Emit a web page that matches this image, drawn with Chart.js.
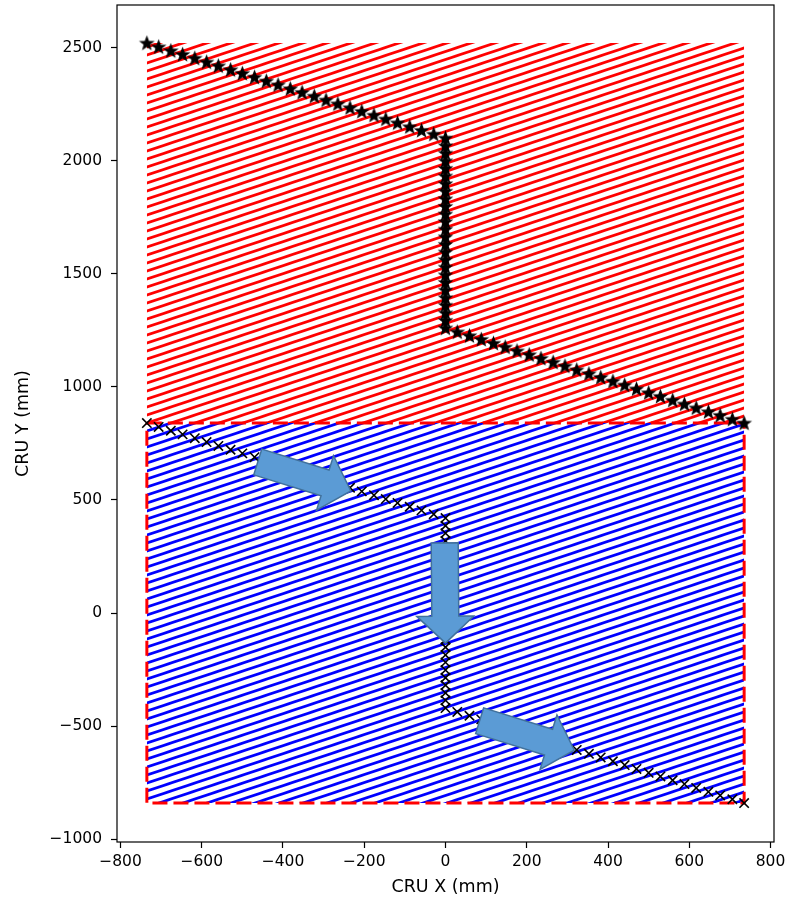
<!DOCTYPE html>
<html>
<head>
<meta charset="utf-8">
<script src="https://cdn.jsdelivr.net/npm/chart.js@4.4.1/dist/chart.umd.min.js"></script>
<style>
  html, body { margin: 0; padding: 0; background: #fff; }
  canvas { display: block; }
</style>
</head>
<body>
<canvas id="cruChart" width="800" height="899"></canvas>
<script>
// path positions shared by both scans (mm)
const pathX = [
  -735, -706, -676, -647, -617, -588, -559, -529, -500, -470, -441, -412, -382,
  -353, -323, -294, -265, -235, -206, -176, -147, -118, -88, -59, -29, 0,
  0, 0, 0, 0, 0, 0, 0, 0, 0, 0, 0, 0, 0, 0, 0, 0, 0, 0, 0, 0, 0, 0, 0, 0, 0,
  29, 59, 88, 118, 147, 176, 206, 235, 265, 294, 323, 353, 382, 412, 441, 470,
  500, 529, 559, 588, 617, 647, 676, 706, 735
];
// upper scan (stars)
const starY = [
  2520, 2503, 2486, 2470, 2453, 2436, 2419, 2402, 2386, 2369, 2352, 2335, 2318,
  2302, 2285, 2268, 2251, 2234, 2218, 2201, 2184, 2167, 2150, 2134, 2117, 2100,
  2066, 2033, 1999, 1966, 1932, 1898, 1865, 1831, 1798, 1764, 1730, 1697, 1663,
  1630, 1596, 1562, 1529, 1495, 1462, 1428, 1394, 1361, 1327, 1294, 1260,
  1243, 1226, 1210, 1193, 1176, 1159, 1142, 1126, 1109, 1092, 1075, 1058, 1042,
  1025, 1008, 991, 974, 958, 941, 924, 907, 890, 874, 857, 840
];
// lower scan (crosses)
const crossY = [
  840, 823, 806, 790, 773, 756, 739, 722, 706, 689, 672, 655, 638,
  622, 605, 588, 571, 554, 538, 521, 504, 487, 470, 454, 437, 420,
  386, 353, 319, 286, 252, 218, 185, 151, 118, 84, 50, 17, -17,
  -50, -84, -118, -151, -185, -218, -252, -286, -319, -353, -386, -420,
  -437, -454, -470, -487, -504, -521, -538, -554, -571, -588, -605, -622, -638,
  -655, -672, -689, -706, -722, -739, -756, -773, -790, -806, -823, -840
];

// regions
const regionX = [-735, 735];
const upperTop = 2520, upperBottom = 840;
const lowerTop = 840, lowerBottom = -840;
const boxX = [-735, 735, 735, -735, -735];
const boxY = [840, 840, -840, -840, 840];

// arrows (tail -> tip, mm)
const arrowTailX = [-462, -2, 84];
const arrowTailY = [668, 310, -476];
const arrowTipX = [-233, 0, 317];
const arrowTipY = [540, -133, -606];

const xTicks = [-800, -600, -400, -200, 0, 200, 400, 600, 800];
const yTicks = [-1000, -500, 0, 500, 1000, 1500, 2000, 2500];

function stripes(color) {
    const c = document.createElement('canvas');
    c.width = 24;
    c.height = 8;
    const g = c.getContext('2d');
    g.strokeStyle = color;
    g.lineWidth = 2.7;
    for (let k = -1; k <= 1; k++) {
        g.beginPath();
        g.moveTo(-24, 16 + 8 * k);
        g.lineTo(48, -8 + 8 * k);
        g.stroke();
    }
    return g.createPattern(c, 'repeat');
}

function starMarker() {
    const c = document.createElement('canvas');
    c.width = 17;
    c.height = 17;
    const g = c.getContext('2d');
    const R = 6.4, r = 2.7, cx = 8.5, cy = 9;
    g.fillStyle = '#000';
    g.strokeStyle = '#000';
    g.lineWidth = 1.3;
    g.lineJoin = 'miter';
    g.beginPath();
    for (let i = 0; i < 10; i++) {
        const rad = i % 2 === 0 ? R : r;
        const a = -Math.PI / 2 + i * Math.PI / 5;
        const px = cx + rad * Math.cos(a), py = cy + rad * Math.sin(a);
        if (i === 0) g.moveTo(px, py); else g.lineTo(px, py);
    }
    g.closePath();
    g.fill();
    g.stroke();
    return c;
}

const fmt = v => v < 0 ? '\u2212' + Math.abs(v) : String(v);

const frame = {
    id: 'frame',
    beforeDraw(chart) {
        const ctx = chart.ctx;
        ctx.save();
        ctx.fillStyle = '#fff';
        ctx.fillRect(0, 0, chart.width, chart.height);
        ctx.restore();
    },
    afterDatasetsDraw(chart) {
        const {ctx, chartArea: a, scales: {x, y}} = chart;
        ctx.save();
        // block arrows
        for (let i = 0; i < arrowTailX.length; i++) {
            const x0 = x.getPixelForValue(arrowTailX[i]), y0 = y.getPixelForValue(arrowTailY[i]);
            const x1 = x.getPixelForValue(arrowTipX[i]), y1 = y.getPixelForValue(arrowTipY[i]);
            const len = Math.hypot(x1 - x0, y1 - y0);
            const dx = (x1 - x0) / len, dy = (y1 - y0) / len;
            const nx = -dy, ny = dx;
            const sw = 13.5, hw = 28.5, hl = 27;
            const bx = x1 - dx * hl, by = y1 - dy * hl;
            ctx.beginPath();
            ctx.moveTo(x0 + nx * sw, y0 + ny * sw);
            ctx.lineTo(bx + nx * sw, by + ny * sw);
            ctx.lineTo(bx + nx * hw, by + ny * hw);
            ctx.lineTo(x1, y1);
            ctx.lineTo(bx - nx * hw, by - ny * hw);
            ctx.lineTo(bx - nx * sw, by - ny * sw);
            ctx.lineTo(x0 - nx * sw, y0 - ny * sw);
            ctx.closePath();
            ctx.fillStyle = '#5b9bd5';
            ctx.fill();
            ctx.strokeStyle = '#41719c';
            ctx.lineWidth = 1.5;
            ctx.stroke();
        }
        // axes frame
        ctx.strokeStyle = '#000';
        ctx.lineWidth = 1.2;
        ctx.strokeRect(a.left, a.top, a.right - a.left, a.bottom - a.top);
        ctx.restore();
    }
};

const ctx = document.getElementById('cruChart').getContext('2d');
Chart.defaults.font.family = 'DejaVu Sans';
Chart.defaults.color = '#000';

new Chart(ctx, {
    type: 'line',
    data: {
        datasets: [
            {
                label: 'upper region',
                data: regionX.map(v => ({x: v, y: upperTop})),
                fill: {value: upperBottom},
                backgroundColor: stripes('#ff0000'),
                borderWidth: 0,
                pointRadius: 0,
                order: 10
            },
            {
                label: 'lower region',
                data: regionX.map(v => ({x: v, y: lowerTop})),
                fill: {value: lowerBottom},
                backgroundColor: stripes('#0000ff'),
                borderWidth: 0,
                pointRadius: 0,
                order: 9
            },
            {
                label: 'box',
                data: boxX.map((v, i) => ({x: v, y: boxY[i]})),
                borderColor: '#ff0000',
                borderWidth: 3,
                borderDash: [15, 6],
                fill: false,
                pointRadius: 0,
                order: 8
            },
            {
                label: 'lower scan',
                data: pathX.map((v, i) => ({x: v, y: crossY[i]})),
                showLine: false,
                pointStyle: 'crossRot',
                pointRadius: 6.6,
                borderColor: '#000',
                borderWidth: 1.6,
                order: 2
            },
            {
                label: 'upper scan',
                data: pathX.map((v, i) => ({x: v, y: starY[i]})),
                showLine: false,
                pointStyle: starMarker(),
                pointRadius: 6,
                order: 1
            }
        ]
    },
    options: {
        responsive: false,
        animation: false,
        layout: {autoPadding: false, padding: {top: 5, right: 26, left: 0, bottom: 0}},
        plugins: {legend: {display: false}, tooltip: {enabled: false}},
        scales: {
            x: {
                type: 'linear',
                min: -808.5,
                max: 808.5,
                afterBuildTicks: s => { s.ticks = xTicks.map(v => ({value: v})); },
                afterFit: s => { s.height = 57; s.paddingLeft = 0; s.paddingRight = 0; },
                border: {display: false},
                grid: {drawOnChartArea: false, drawTicks: true, tickLength: 6, color: '#000', tickWidth: 1.2},
                ticks: {font: {size: 15.5}, padding: 5, maxRotation: 0, autoSkip: false, callback: v => fmt(v)},
                title: {display: true, text: 'CRU X (mm)', font: {size: 17.5}, padding: {top: 0, bottom: 1}}
            },
            y: {
                type: 'linear',
                min: -1012,
                max: 2688,
                afterBuildTicks: s => { s.ticks = yTicks.map(v => ({value: v})); },
                afterFit: s => { s.width = 117; s.paddingTop = 0; s.paddingBottom = 0; },
                border: {display: false},
                grid: {drawOnChartArea: false, drawTicks: true, tickLength: 6, color: '#000', tickWidth: 1.2},
                ticks: {font: {size: 15.5}, padding: 9, autoSkip: false, callback: v => fmt(v)},
                title: {display: true, text: 'CRU Y (mm)', font: {size: 17.5}, padding: {top: 13, bottom: 0}}
            }
        }
    },
    plugins: [frame]
});
</script>
</body>
</html>
